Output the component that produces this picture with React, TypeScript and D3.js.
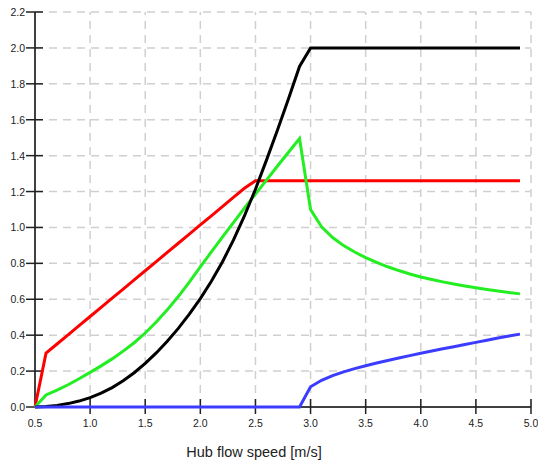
import React from "react";
import * as d3 from "d3";

const speeds = [
  0.5, 0.6, 0.7, 0.8, 0.9, 1.0, 1.1, 1.2, 1.3, 1.4, 1.5, 1.6, 1.7, 1.8, 1.9,
  2.0, 2.1, 2.2, 2.3, 2.4, 2.5, 2.6, 2.7, 2.8, 2.9, 3.0, 3.1, 3.2, 3.3, 3.4,
  3.5, 3.6, 3.7, 3.8, 3.9, 4.0, 4.1, 4.2, 4.3, 4.4, 4.5, 4.6, 4.7, 4.8, 4.9,
];

const redSeries = [
  0, 0.3, 0.351, 0.402, 0.453, 0.504, 0.555, 0.606, 0.657, 0.708, 0.759, 0.81,
  0.861, 0.912, 0.963, 1.014, 1.065, 1.116, 1.167, 1.218, 1.26, 1.26, 1.26,
  1.26, 1.26, 1.26, 1.26, 1.26, 1.26, 1.26, 1.26, 1.26, 1.26, 1.26, 1.26, 1.26,
  1.26, 1.26, 1.26, 1.26, 1.26, 1.26, 1.26, 1.26, 1.26,
];

const blackSeries = [
  0, 0.003, 0.009, 0.019, 0.033, 0.052, 0.077, 0.108, 0.146, 0.191, 0.243,
  0.301, 0.366, 0.438, 0.517, 0.604, 0.7, 0.808, 0.929, 1.064, 1.213, 1.375,
  1.543, 1.717, 1.897, 2.0, 2.0, 2.0, 2.0, 2.0, 2.0, 2.0, 2.0, 2.0, 2.0, 2.0,
  2.0, 2.0, 2.0, 2.0, 2.0, 2.0, 2.0, 2.0, 2.0,
];

const greenSeries = [
  0, 0.067, 0.094, 0.124, 0.157, 0.193, 0.229, 0.268, 0.311, 0.358, 0.412,
  0.473, 0.541, 0.615, 0.695, 0.78, 0.864, 0.946, 1.027, 1.107, 1.186, 1.264,
  1.342, 1.419, 1.495, 1.1, 1.004, 0.944, 0.899, 0.863, 0.832, 0.805, 0.781,
  0.76, 0.741, 0.724, 0.71, 0.697, 0.685, 0.674, 0.664, 0.655, 0.646, 0.638,
  0.63,
];

const blueSeries = [
  0, 0, 0, 0, 0, 0, 0, 0, 0, 0, 0, 0, 0, 0, 0, 0, 0, 0, 0, 0, 0, 0, 0, 0, 0,
  0.113, 0.149, 0.175, 0.196, 0.214, 0.23, 0.245, 0.259, 0.273, 0.286, 0.299,
  0.312, 0.324, 0.336, 0.348, 0.36, 0.372, 0.384, 0.395, 0.406,
];

const xTicks = [1.0, 1.5, 2.0, 2.5, 3.0, 3.5, 4.0, 4.5, 5.0];
const xTickLabels = ["0.5", "1.0", "1.5", "2.0", "2.5", "3.0", "3.5", "4.0", "4.5", "5.0"];
const yTicks = [0, 0.2, 0.4, 0.6, 0.8, 1.0, 1.2, 1.4, 1.6, 1.8, 2.0, 2.2];
const xLabelValues = [0.5, 1.0, 1.5, 2.0, 2.5, 3.0, 3.5, 4.0, 4.5, 5.0];
const xTitle = "Hub flow speed [m/s]";

const seriesList = [
  { name: "red", values: redSeries, color: "#ff0000" },
  { name: "green", values: greenSeries, color: "#22ee22" },
  { name: "black", values: blackSeries, color: "#000000" },
  { name: "blue", values: blueSeries, color: "#3c3cff" },
];

export default function App() {
  const W = 538;
  const H = 460;
  const x = d3.scaleLinear().domain([0.5, 5.0]).range([35, 531]);
  const y = d3.scaleLinear().domain([0, 2.2]).range([407, 12]);
  const line = (vals: number[]) =>
    d3
      .line<number>()
      .x((_, i) => x(speeds[i]))
      .y((d) => y(d))(vals) || "";

  const font = "'Liberation Sans', Arial, sans-serif";

  return (
    <svg
      width={W}
      height={H}
      style={{ position: "absolute", left: 0, top: 0, background: "#fff" }}
    >
      <rect x={0} y={0} width={W} height={H} fill="#fff" />
      {/* grid */}
      {yTicks
        .filter((t) => t > 0)
        .map((t) => (
          <line
            key={"gy" + t}
            x1={x(0.5)}
            x2={x(5.0)}
            y1={y(t)}
            y2={y(t)}
            stroke="#d0d0d0"
            strokeWidth={1.5}
            strokeDasharray="8,6"
          />
        ))}
      {xTicks.map((t) => (
        <line
          key={"gx" + t}
          x1={x(t)}
          x2={x(t)}
          y1={y(0)}
          y2={y(2.2)}
          stroke="#d0d0d0"
          strokeWidth={1.5}
          strokeDasharray="8,6"
        />
      ))}
      {/* axes */}
      <line x1={x(0.5)} x2={x(0.5)} y1={y(0)} y2={y(2.2)} stroke="#000" strokeWidth={1.5} />
      <line x1={x(0.5)} x2={x(5.0)} y1={y(0)} y2={y(0)} stroke="#000" strokeWidth={1.5} />
      {yTicks.map((t) => (
        <g key={"yt" + t}>
          <line x1={26} x2={43} y1={y(t)} y2={y(t)} stroke="#222" strokeWidth={1.5} />
          <text
            x={25}
            y={y(t) + 4}
            textAnchor="end"
            fontFamily={font}
            fontSize={10.5}
            fill="#222"
          >
            {t.toFixed(1)}
          </text>
        </g>
      ))}
      {xTicks.map((t) => (
        <line key={"xt" + t} x1={x(t)} x2={x(t)} y1={399} y2={414} stroke="#222" strokeWidth={1.5} />
      ))}
      {xLabelValues.map((v, i) => (
        <text
          key={"xl" + v}
          x={x(v)}
          y={427}
          textAnchor="middle"
          fontFamily={font}
          fontSize={10.5}
          fill="#222"
        >
          {xTickLabels[i]}
        </text>
      ))}
      <text
        x={254}
        y={457}
        textAnchor="middle"
        fontFamily={font}
        fontSize={14.5}
        fill="#222"
      >
        {xTitle}
      </text>
      {/* series */}
      {seriesList.map((s) => (
        <path
          key={s.name}
          d={line(s.values)}
          fill="none"
          stroke={s.color}
          strokeWidth={3}
          strokeLinejoin="miter"
        />
      ))}
    </svg>
  );
}
